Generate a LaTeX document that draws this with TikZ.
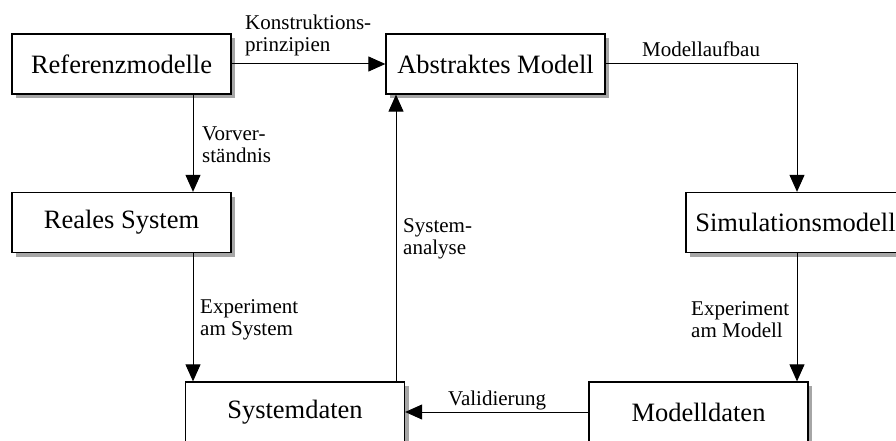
\documentclass[tikz,border=0pt]{standalone}
\usepackage{fontspec}
\setmainfont{Liberation Serif}
\usetikzlibrary{arrows.meta,shadows}
\begin{document}
\begin{tikzpicture}[x=1pt,y=-1pt,
  blk/.style={draw, line width=1.3pt, fill=white, minimum width=219pt,
    minimum height=60pt, inner sep=0pt,
    font=\fontsize{26.5}{30}\selectfont,
    drop shadow={shadow xshift=4pt, shadow yshift=-4pt, fill=black!35, opacity=1}},
  lbl/.style={anchor=base west, align=left, inner sep=0pt,
    font=\fontsize{21}{22}\selectfont},
  flow/.style={line width=1pt, -{Triangle[length=17pt,width=15pt]}}]
\useasboundingbox (0,0) rectangle (896,441);
\clip (0,0) rectangle (896,441);

% boxes
\node[blk] (ref)  at (121.5,64)  {Referenzmodelle};
\node[blk] (abs)  at (495.5,64)  {Abstraktes Modell};
\node[blk] (real) at (121.5,222.5) {Reales System};
\node[blk] (sim)  at (795.5,222.5) {Simulationsmodell};
\node[blk] (sysd) at (295,412)   {Systemdaten};
\node[blk] (modd) at (698.5,412) {Modelldaten};

% vertical guide lines for the connectors
\coordinate (left)  at (193,0);
\coordinate (mid)   at (396,0);
\coordinate (right) at (797,0);

% connectors
\draw[flow] (ref.east) -- (abs.west);
\draw[flow] (ref.south -| left) -- (real.north -| left);
\draw[flow] (real.south -| left) -- (sysd.north -| left);
\draw[flow] (sysd.north -| mid) -- (abs.south -| mid);
\draw[flow] (abs.east) -| (sim.north -| right);
\draw[flow] (sim.south -| right) -- (modd.north -| right);
\draw[flow] (modd.west) -- (sysd.east);

% connector labels (anchored at the baseline of the last line)
\node[lbl] (l1) at (245,52)  {Konstruktions-\\prinzipien};
\node[lbl] (l2) at (202,162) {Vorver-\\ständnis};
\node[lbl] (l3) at (642,57)  {Modellaufbau};
\node[lbl] (l4) at (403,254) {System-\\analyse};
\node[lbl] (l5) at (200,335) {Experiment\\am System};
\node[lbl] (l6) at (691,337) {Experiment\\am Modell};
\node[lbl] (l7) at (448,405) {Validierung};
\end{tikzpicture}
\end{document}
